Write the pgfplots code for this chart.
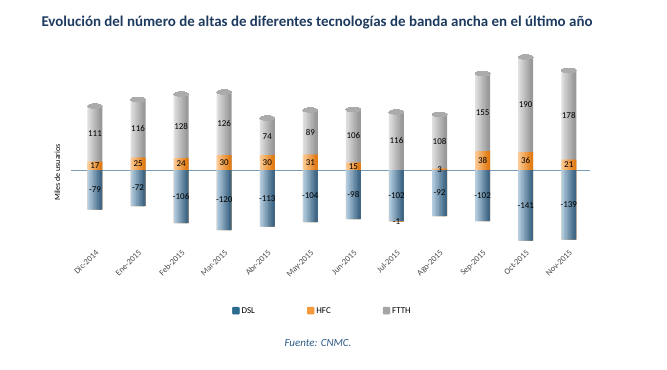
\documentclass[border=0pt]{standalone}
\usepackage{pgfplots}
\pgfplotsset{compat=1.18}
\usepackage{pgfplotstable}
\usepackage{fontspec}
\setmainfont{Carlito}
\definecolor{titlecol}{HTML}{1D3A5F}
\definecolor{srccol}{HTML}{2E5C87}
\definecolor{tickcol}{HTML}{4A4A4A}
\definecolor{zerocol}{HTML}{7C9CB5}
\definecolor{dslL}{HTML}{B6CEE0}
\definecolor{dslR}{HTML}{3F6785}
\definecolor{dslleg}{HTML}{2A6B8E}
\definecolor{hfcL}{HTML}{FCCB96}
\definecolor{hfcR}{HTML}{E27C14}
\definecolor{hfcleg}{HTML}{F59A3C}
\definecolor{ftL}{HTML}{E0E0E0}
\definecolor{ftR}{HTML}{989898}
\definecolor{ftleg}{HTML}{A5A5A5}
\definecolor{capcol}{HTML}{ABABAB}

% dsl, hfcp = HFC above zero, hfcn = HFC below the DSL bar,
% tot = hfcp + ftth (top of the column), dtot = dsl + hfcn
\pgfplotstableread{
x dsl hfcp hfcn ftth tot dtot hlab nlab
0 -79 17 0 111 128 -79 17 {}
1 -72 25 0 116 141 -72 25 {}
2 -106 24 0 128 152 -106 24 {}
3 -120 30 0 126 156 -120 30 {}
4 -113 30 0 74 104 -113 30 {}
5 -104 31 0 89 120 -104 31 {}
6 -98 15 0 106 121 -98 15 {}
7 -102 0 -1 116 116 -103 {} -1
8 -92 3 0 108 111 -92 3 {}
9 -102 38 0 155 193 -102 38 {}
10 -141 36 0 190 226 -141 36 {}
11 -139 21 0 178 199 -139 21 {}
}\data

\pgfplotsset{
  stripe/.style n args={3}{draw=none, fill=#2!\the\numexpr #1*11\relax!#3, bar width=2.5bp,
    bar shift={(-6.25+1.38889*#1)*1bp}, forget plot},
  lbl/.style={draw=none, fill=none, bar width=15bp, bar shift=0pt, forget plot,
    nodes near coords,
    visualization depends on={\thisrow{#1} \as \rawv},
    every node near coord/.append style={anchor=center, font=\fontsize{9}{10}\selectfont, text=black,
      inner sep=0pt, yshift={-0.25bp*(\rawv)}}},
}

\begin{document}
\begin{tikzpicture}
\path[use as bounding box] (0,0) rectangle (667bp,370bp);

\begin{axis}[
  at={(71.3bp,122.5bp)}, anchor=south west,
  width=519bp, height=195bp, scale only axis,
  xmin=-0.55, xmax=11.5, ymin=-155, ymax=235,
  ybar, bar width=15bp, bar shift=0pt, clip=false,
  /pgf/number format/assume math mode=true,
  axis line style={draw=none},
  major tick length=0pt,
  ytick=\empty,
  extra y ticks={0}, extra y tick labels={},
  extra y tick style={grid=major},
  major grid style={draw=zerocol, line width=0.9bp},
  xtick={0,...,11},
  xticklabels={Dic-2014,Ene-2015,Feb-2015,Mar-2015,Abr-2015,May-2015,Jun-2015,Jul-2015,Ago-2015,Sep-2015,Oct-2015,Nov-2015},
  x tick label style={rotate=45, anchor=north east, font=\fontsize{8.5}{9}\selectfont, text=tickcol, inner sep=1pt},
  ylabel={Miles de usuarios},
  every axis y label/.style={at={(axis description cs:-0.027,0.385)}, rotate=90, anchor=center,
    font=\fontsize{8}{9}\selectfont, text=black},
  legend columns=-1,
  legend style={at={(axis description cs:0.484,-0.325)}, anchor=center, draw=none, fill=none,
    font=\fontsize{9}{10}\selectfont, text=black,
    /tikz/every even column/.append style={column sep=50bp}},
]
\addlegendimage{legend image code/.code={\fill[dslleg, rounded corners=0.8bp] (0bp,-3.3bp) rectangle (7bp,3.7bp);}}
\addlegendentry{DSL}
\addlegendimage{legend image code/.code={\fill[hfcleg, rounded corners=0.8bp] (0bp,-3.3bp) rectangle (7bp,3.7bp);}}
\addlegendentry{HFC}
\addlegendimage{legend image code/.code={\fill[ftleg, rounded corners=0.8bp] (0bp,-3.3bp) rectangle (7bp,3.7bp);}}
\addlegendentry{FTTH}

% FTTH column (from the top of HFC up), drawn as full height then covered by HFC
\pgfplotsinvokeforeach{0,...,9}{
  \addplot[stripe={#1}{ftR}{ftL}] table[x=x, y=tot] {\data};
}
% HFC above zero
\pgfplotsinvokeforeach{0,...,9}{
  \addplot[stripe={#1}{hfcR}{hfcL}] table[x=x, y=hfcp] {\data};
}
% HFC below DSL (negative)
\pgfplotsinvokeforeach{0,...,9}{
  \addplot[stripe={#1}{hfcR}{hfcL}] table[x=x, y=dtot] {\data};
}
% DSL
\pgfplotsinvokeforeach{0,...,9}{
  \addplot[stripe={#1}{dslR}{dslL}] table[x=x, y=dsl] {\data};
}
% cylinder caps
\addplot[draw=none, fill=none, bar width=15bp, bar shift=0pt, forget plot,
  mark=*, mark size=7.5bp, mark options={yscale=0.3, draw=capcol, fill=capcol, line width=0pt}]
  table[x=x, y=tot] {\data};

% value labels
\addplot[lbl=ftth, point meta=explicit] table[x=x, y=tot, meta=ftth] {\data};
\addplot[lbl=hfcp, point meta=explicit symbolic] table[x=x, y=hfcp, meta=hlab] {\data};
\addplot[lbl=dsl, point meta=explicit] table[x=x, y=dsl, meta=dsl] {\data};
\addplot[lbl=hfcn, point meta=explicit symbolic] table[x=x, y=dtot, meta=nlab] {\data};
\end{axis}

\node[anchor=west, font=\fontsize{15}{16}\selectfont\bfseries, text=titlecol] at (38bp,347bp)
  {Evolución del número de altas de diferentes tecnologías de banda ancha en el último año};
\node[font=\fontsize{11}{12}\selectfont\itshape, text=srccol] at (318bp,27bp) {Fuente: CNMC.};
\end{tikzpicture}
\end{document}
